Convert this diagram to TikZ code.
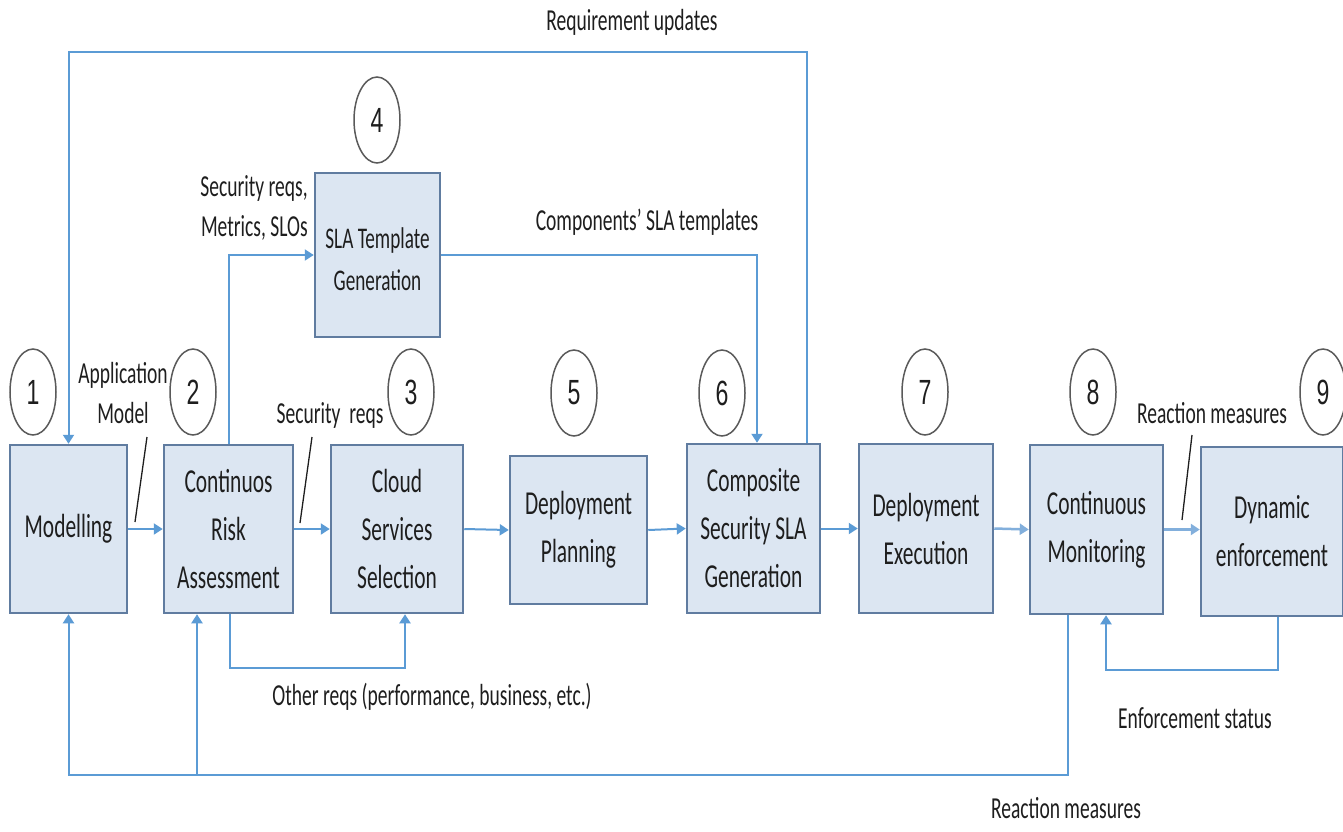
\documentclass[tikz,border=0pt]{standalone}
\usepackage{fontspec}
\setmainfont{Carlito}[FakeStretch=0.64]
\newfontfamily\digitfont{Liberation Sans}[FakeStretch=0.66]
\usetikzlibrary{arrows.meta,shapes.geometric}
\definecolor{boxfill}{RGB}{220,230,242}
\definecolor{boxline}{RGB}{96,124,160}
\definecolor{flow}{RGB}{91,155,213}
\definecolor{flowlight}{RGB}{130,175,220}
\definecolor{ring}{RGB}{90,90,90}
\definecolor{ink}{RGB}{30,30,30}

\begin{document}
\begin{tikzpicture}[x=1pt,y=-1pt,
  stage/.style={draw=boxline, line width=2.5pt, fill=boxfill, align=center,
    inner sep=0pt, font=\fontsize{33.5}{48}\selectfont, text=ink},
  badge/.style={ellipse, draw=ring, line width=1.5pt, minimum width=46pt,
    minimum height=86pt, inner sep=0pt, font=\digitfont\fontsize{35}{35}\selectfont, text=ink},
  conn/.style={draw=flow, line width=2pt, -{Triangle[length=9pt,width=11pt]}},
  note/.style={font=\fontsize{30.5}{40}\selectfont, text=ink, inner sep=0pt, align=center},
  tick/.style={draw=ink, line width=1.3pt}]

\fill[white] (0,0) rectangle (1343,831);
\useasboundingbox (0,0) rectangle (1343,831);

% process stages
\node[stage, minimum width=117pt, minimum height=168pt] (b1) at (68.5,529) {Modelling};
\node[stage, minimum width=129pt, minimum height=168pt] (b2) at (228.5,529) {Continuos\\Risk\\Assessment};
\node[stage, minimum width=132pt, minimum height=168pt] (b3) at (397,529) {Cloud\\Services\\Selection};
\node[stage, minimum width=125pt, minimum height=164pt, font=\fontsize{30}{42}\selectfont] (b4) at (377.5,255) {\rule{0pt}{30pt}SLA Template\\Generation};
\node[stage, minimum width=137pt, minimum height=148pt] (b5) at (578.5,530) {Deployment\\Planning};
\node[stage, minimum width=133pt, minimum height=169pt] (b6) at (753.5,528.5) {Composite\\Security SLA\\Generation};
\node[stage, minimum width=134pt, minimum height=169pt] (b7) at (926,528.5) {Deployment\\Execution};
\node[stage, minimum width=133pt, minimum height=169pt] (b8) at (1096.5,529.5) {Continuous\\Monitoring};
\node[stage, minimum width=142pt, minimum height=169pt] (b9) at (1272,531.5) {Dynamic\\enforcement};

% step numbers
\node[badge] (c1) at (33,392) {1};
\node[badge] (c2) at (193,392) {2};
\node[badge] (c3) at (411,392) {3};
\node[badge] (c4) at (377,120) {4};
\node[badge] (c5) at (574,393) {5};
\node[badge] (c6) at (722,393) {6};
\node[badge] (c7) at (925,392) {7};
\node[badge] (c8) at (1093,392) {8};
\node[badge] (c9) at (1323,392) {9};

% main flow
\draw[conn] (b1.east) -- (b2.west);
\draw[conn] (b2.east) -- (b3.west);
\draw[conn] (b3.east) -- (b5.west);
\draw[conn] (b5.east) -- (b6.west);
\draw[conn] (b6.east) -- (b7.west);
\draw[conn, draw=flowlight, line width=2.5pt] (b7.east) -- (b8.west);
\draw[conn, draw=flowlight, line width=2.5pt] (b8.east) -- (b8.east -| b9.west);

% routing points
\coordinate (r1) at (807,52);
\coordinate (r2) at (68.5,52);
\coordinate (t1) at (757,255);
\coordinate (o1) at (230,668);
\coordinate (o2) at (405,668);
\coordinate (m1) at (1068,775);
\coordinate (m2) at (68.5,775);
\coordinate (m3) at (197,775);
\coordinate (e1) at (1278,670);
\coordinate (e2) at (1106,670);

% side flows
\draw[conn] (b2.north) |- (b4.west);
\draw[conn] (b4.east) -- (t1) -- (b6.north -| t1);
\draw[conn] (b6.north -| r1) -- (r1) -- (r2) -- (b1.north);
\draw[conn] (b2.south -| o1) -- (o1) -- (o2) -- (b3.south -| o2);
\draw[conn] (b8.south -| m1) -- (m1) -- (m2) -- (b1.south);
\draw[conn] (m3) -- (b2.south -| m3);
\draw[conn] (b9.south -| e1) -- (e1) -- (e2) -- (b8.south -| e2);

% flow labels
\node[note] (lreq) at (632,22) {Requirement updates};
\node[note, align=right] (lsec4) at (254,208) {Security reqs,\\Metrics, SLOs};
\node[note] (lcomp) at (647,222) {Components’ SLA templates};
\node[note] (lapp) at (123,393) {Application\\Model};
\node[note] (lsec) at (330,415) {Security\ \ reqs};
\node[note] (lreact) at (1212,413) {Reaction measures};
\node[note] (lother) at (432,697) {Other reqs (performance,\ business, etc.)};
\node[note] (lenf) at (1195,718) {Enforcement status};
\node[note] (lreact2) at (1066,808) {Reaction measures};

% label leaders
\coordinate (a1) at (147,437);
\coordinate (a2) at (135,522);
\coordinate (s1) at (312,437);
\coordinate (s2) at (300,523);
\coordinate (q1) at (1192,435);
\coordinate (q2) at (1182,520);
\draw[tick] (a1) -- (a2);
\draw[tick] (s1) -- (s2);
\draw[tick] (q1) -- (q2);
\end{tikzpicture}
\end{document}
